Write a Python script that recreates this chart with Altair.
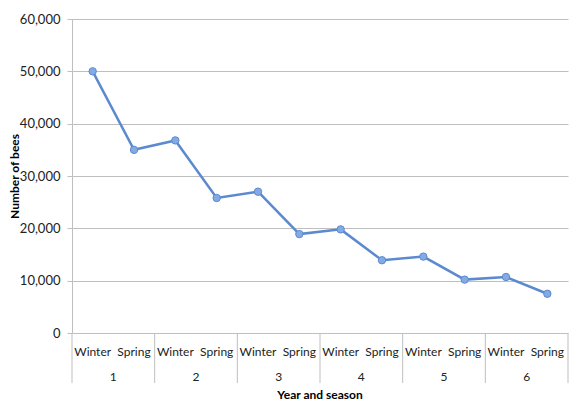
import altair as alt
import pandas as pd

seasons = ["Winter", "Spring"] * 6
years = [1, 1, 2, 2, 3, 3, 4, 4, 5, 5, 6, 6]
bees = [50000, 35000, 36800, 25800, 27000, 18900, 19800, 13900, 14600, 10200, 10700, 7500]

year_labels = [1, 2, 3, 4, 5, 6]
y_ticks = [0, 10000, 20000, 30000, 40000, 50000, 60000]
x_title = "Year and season"
y_title = "Number of bees"

df = pd.DataFrame({"idx": list(range(len(bees))), "season": seasons, "year": years, "bees": bees})
ydf = pd.DataFrame({"year": [str(y) for y in year_labels], "pos": [2 * (y - 1) + 0.5 for y in year_labels]})
bdf = pd.DataFrame({"b": [2 * k - 0.5 for k in range(len(year_labels) + 1)]})
tdf = pd.DataFrame({"t": [x_title], "pos": [(len(bees) - 1) / 2]})

W, H = 496, 314
FONT = "Lato"
GRID = "#BFBFBF"
TXT = "#222222"
LINE = "#5B8AD0"

xs = alt.Scale(domain=[-0.5, 11.5], nice=False, zero=False)
ys = alt.Scale(domain=[0, 60000], nice=False)

yaxis = alt.Axis(
    values=y_ticks, format=",d",
    grid=True, gridColor=GRID, domainColor=GRID, tickColor=GRID, tickSize=5,
    labelFont=FONT, labelFontSize=13, labelColor=TXT, labelPadding=7,
    title=y_title, titleFont=FONT, titleFontSize=12, titleFontWeight="bold",
    titleColor="#000000", titleX=-58, titleY=H / 2, titleBaseline="middle")

base = alt.Chart(df)

line = base.mark_line(color=LINE, strokeWidth=2.5).encode(
    x=alt.X("idx:Q", scale=xs, axis=None),
    y=alt.Y("bees:Q", scale=ys, axis=yaxis),
)

pts = base.mark_point(filled=True, shape="circle", size=55, fill="#84AAE4", stroke=LINE, strokeWidth=1, opacity=1).encode(
    x=alt.X("idx:Q", scale=xs, axis=None),
    y=alt.Y("bees:Q", scale=ys, axis=yaxis),
)

season_txt = base.mark_text(font=FONT, fontSize=12, color=TXT, baseline="middle").encode(
    x=alt.X("idx:Q", scale=xs, axis=None),
    y=alt.value(H + 19),
    text="season:N",
)

year_txt = alt.Chart(ydf).mark_text(font=FONT, fontSize=12, color=TXT, baseline="middle").encode(
    x=alt.X("pos:Q", scale=xs, axis=None),
    y=alt.value(H + 44),
    text="year:N",
)

seps = alt.Chart(bdf).mark_rule(color=GRID, strokeWidth=1).encode(
    x=alt.X("b:Q", scale=xs, axis=None),
    y=alt.value(H),
    y2=alt.value(H + 50),
)

xtitle = alt.Chart(tdf).mark_text(
    font=FONT, fontSize=12, fontWeight="bold", color="#000000", baseline="middle"
).encode(x=alt.X("pos:Q", scale=xs, axis=None), y=alt.value(H + 62), text="t:N")

chart = alt.layer(seps, line, pts, season_txt, year_txt, xtitle).properties(
    width=W, height=H,
    autosize=alt.AutoSizeParams(type="none"),
    padding={"left": 64, "top": 11, "right": 6, "bottom": 80},
).configure_view(stroke=None)

chart.save("out.html", embed_options={"renderer": "svg", "actions": False})
